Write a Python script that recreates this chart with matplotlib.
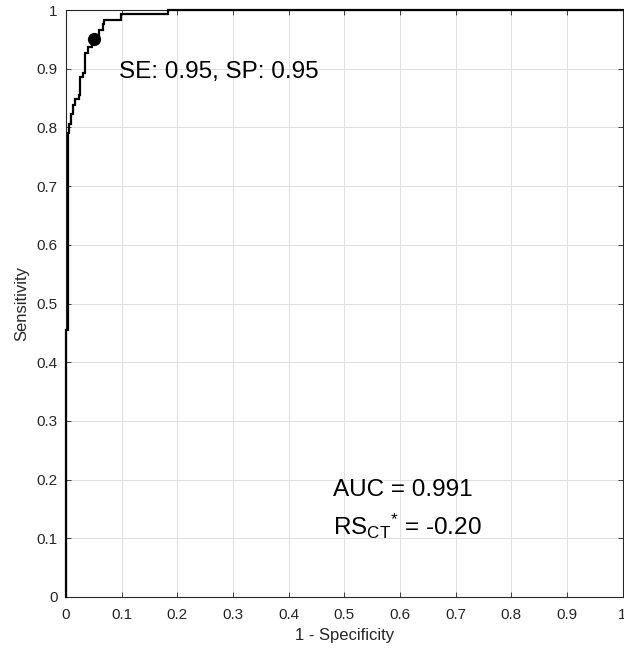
import matplotlib
matplotlib.use("Agg")
import matplotlib.pyplot as plt

plt.rcParams["font.family"] = ["Liberation Sans", "DejaVu Sans"]
plt.rcParams["mathtext.fontset"] = "custom"
plt.rcParams["mathtext.rm"] = "Liberation Sans"
plt.rcParams["mathtext.it"] = "Liberation Sans:italic"
plt.rcParams["mathtext.bf"] = "Liberation Sans:bold"

# ROC operating points (false positive rate, true positive rate)
fpr = [0.0, 0.0, 0.003, 0.004, 0.006, 0.009, 0.012, 0.016, 0.024, 0.026,
       0.030, 0.034, 0.040, 0.047, 0.052, 0.060, 0.067, 0.069, 0.099, 0.183, 1.0]
tpr = [0.0, 0.455, 0.700, 0.790, 0.805, 0.822, 0.838, 0.848, 0.855, 0.886,
       0.893, 0.927, 0.937, 0.945, 0.955, 0.966, 0.977, 0.983, 0.994, 1.0, 1.0]

# Selected cut-off
sens_opt = 0.95
spec_opt = 0.95
auc = 0.991
rs_ct = -0.20

ticks = [i / 10 for i in range(11)]
tick_labels = ["0", "0.1", "0.2", "0.3", "0.4", "0.5", "0.6", "0.7", "0.8", "0.9", "1"]

fig = plt.figure(figsize=(6.24, 6.51), dpi=100)
ax = fig.add_axes([66 / 624, 54 / 651, 556.5 / 624, 587 / 651])

ax.plot(fpr, tpr, color="black", lw=1.6, drawstyle="steps-post",
        solid_joinstyle="miter", zorder=3, clip_on=False)
ax.plot([1 - spec_opt], [sens_opt], "o", color="black", ms=8.5, zorder=4)

ax.text(0.095, 0.894, f"SE: {sens_opt:.2f}, SP: {spec_opt:.2f}",
        fontsize=17.5, va="center", ha="left")
ax.text(0.48, 0.182, f"AUC = {auc:.3f}", fontsize=17.5, va="center", ha="left")
ax.text(0.48, 0.12, r"RS$_{\mathrm{CT}}{}^{*}$" + f" = {rs_ct:.2f}",
        fontsize=17.5, va="center", ha="left")

ax.set_xlim(0, 1)
ax.set_ylim(0, 1)
ax.set_xticks(ticks)
ax.set_yticks(ticks)
ax.set_xticklabels(tick_labels)
ax.set_yticklabels(tick_labels)

edge = (0.15, 0.15, 0.15)
for s in ax.spines.values():
    s.set_color(edge)
    s.set_linewidth(0.8)
ax.tick_params(direction="in", length=3.5, width=0.6, color=edge,
               top=True, right=True, labelsize=11, labelcolor=edge)
ax.tick_params(axis="x", pad=8)
ax.tick_params(axis="y", pad=6)
ax.grid(True, color=(0.88, 0.88, 0.88), lw=0.7)
ax.set_axisbelow(True)

ax.set_xlabel("1 - Specificity", fontsize=12, color=edge, labelpad=4)
ax.set_ylabel("Sensitivity", fontsize=12, color=edge, labelpad=5)

fig.savefig("out.png", dpi=100)
